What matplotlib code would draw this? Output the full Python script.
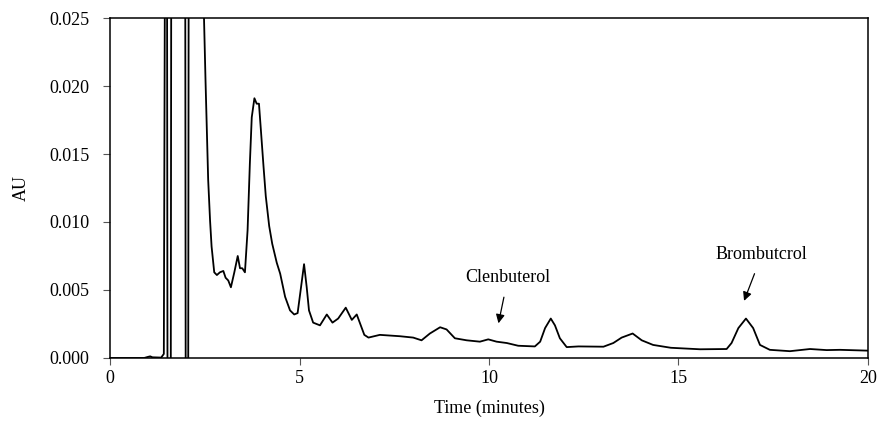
import matplotlib
matplotlib.use("Agg")
import matplotlib.pyplot as plt

# chromatogram trace (minutes, AU)
time_min = [0.0, 0.9, 1.0, 1.06, 1.12, 1.35, 1.42, 1.46, 1.50, 1.52, 1.60, 1.62,
            1.98, 2.00, 2.06, 2.08, 2.40, 2.48, 2.52, 2.59, 2.64, 2.68, 2.75,
            2.82, 2.90, 2.99, 3.05, 3.12, 3.19, 3.28, 3.37, 3.43, 3.49, 3.56,
            3.63, 3.69, 3.74, 3.81, 3.87, 3.93, 3.98, 4.05, 4.11, 4.20, 4.28,
            4.40, 4.49, 4.62, 4.75, 4.86, 4.95, 5.04, 5.12, 5.19, 5.25, 5.36,
            5.54, 5.72, 5.87, 6.02, 6.22, 6.38, 6.51, 6.71, 6.82, 7.12, 7.65,
            8.00, 8.22, 8.44, 8.71, 8.88, 9.10, 9.41, 9.76, 9.98, 10.20, 10.47,
            10.77, 11.21, 11.35, 11.48, 11.63, 11.74, 11.87, 12.05, 12.36,
            13.02, 13.28, 13.50, 13.79, 14.03, 14.33, 14.80, 15.57, 16.27,
            16.40, 16.58, 16.78, 16.97, 17.15, 17.41, 17.94, 18.47, 18.91,
            19.26, 20.0]
absorb = [0.0, 0.0, 0.00008, 0.00012, 0.00005, 0.00003, 0.0003, 0.04, 0.04,
          -0.01, -0.01, 0.04, 0.04, -0.01, -0.01, 0.04, 0.04, 0.025, 0.0204,
          0.0131, 0.0101, 0.0082, 0.0063, 0.0061, 0.0063, 0.0064, 0.0059,
          0.0057, 0.0052, 0.0063, 0.0075, 0.0066, 0.0066, 0.0063, 0.0094,
          0.0143, 0.0177, 0.0191, 0.0187, 0.0187, 0.0168, 0.0141, 0.0119,
          0.0097, 0.0084, 0.0070, 0.0062, 0.0045, 0.0035, 0.0032, 0.0033,
          0.0052, 0.0069, 0.0052, 0.0035, 0.0026, 0.0024, 0.0032, 0.0026,
          0.0029, 0.0037, 0.0028, 0.0032, 0.0017, 0.0015, 0.0017, 0.0016,
          0.0015, 0.0013, 0.0018, 0.00226, 0.0021, 0.00145, 0.0013, 0.0012,
          0.00137, 0.0012, 0.0011, 0.0009, 0.00085, 0.0012, 0.0022, 0.0029,
          0.0024, 0.00145, 0.0008, 0.00085, 0.00083, 0.0011, 0.0015, 0.0018,
          0.0013, 0.00096, 0.00075, 0.00064, 0.00066, 0.0011, 0.0022, 0.0029,
          0.0022, 0.00096, 0.0006, 0.0005, 0.00066, 0.00058, 0.0006, 0.00054]

x_ticks = [0, 5, 10, 15, 20]
y_ticks = [0.000, 0.005, 0.010, 0.015, 0.020, 0.025]

plt.rcParams['font.family'] = ['Liberation Serif', 'DejaVu Serif']

fig = plt.figure(figsize=(8.78, 4.23), dpi=100)
ax = fig.add_axes([0.1253, 0.1537, 0.8633, 0.8037])

ax.plot(time_min, absorb, color='black', lw=1.3, solid_joinstyle='round')

ax.set_xlim(0, 20)
ax.set_ylim(0, 0.025)
ax.set_xticks(x_ticks)
ax.set_yticks(y_ticks)
ax.set_yticklabels([f'{v:.3f}' for v in y_ticks])
ax.tick_params(axis='both', direction='out', colors='#555555', labelcolor='black',
               labelsize=13, length=5, width=0.8)
ax.tick_params(axis='y', pad=10)
ax.tick_params(axis='x', pad=4)
for s in ax.spines.values():
    s.set_linewidth(1.1)

ax.set_xlabel('Time (minutes)', fontsize=13, labelpad=9)
ax.set_ylabel('AU', fontsize=13, labelpad=14)

ax.annotate('Clenbuterol', xy=(10.25, 0.00255), xytext=(10.5, 0.0059),
            ha='center', va='center', fontsize=13,
            arrowprops=dict(arrowstyle='-|>', color='black', lw=0.9,
                            mutation_scale=13, shrinkA=6, shrinkB=0))
ax.annotate('Brombutcrol', xy=(16.73, 0.0042), xytext=(17.2, 0.0076),
            ha='center', va='center', fontsize=13,
            arrowprops=dict(arrowstyle='-|>', color='black', lw=0.9,
                            mutation_scale=13, shrinkA=6, shrinkB=0))

fig.savefig('out.png', dpi=100)
